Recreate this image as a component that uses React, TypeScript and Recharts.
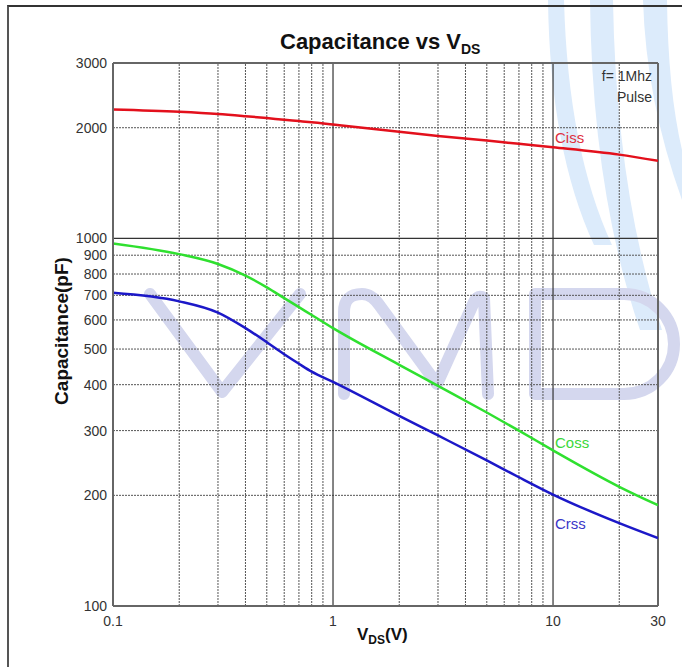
import { LineChart, Line, XAxis, YAxis, ReferenceLine } from "recharts"

// V_DS sample points (V)
const vds = [0.1, 0.2, 0.3, 0.4, 0.5, 0.6, 0.7, 0.8, 1, 2, 3, 5, 7, 10, 20, 30]
const ciss = [2242, 2210, 2180, 2150, 2125, 2102, 2085, 2070, 2040, 1950, 1900, 1845, 1808, 1770, 1690, 1625]
const coss = [969, 906, 852, 792, 736, 688, 650, 619, 570, 453, 397, 336, 300, 265, 211, 188]
const crss = [711, 674, 628, 570, 522, 484, 456, 434, 407, 329, 291, 249, 224, 201, 168, 153]

const xTicks = [0.1, 1, 10, 30]
const yTicks = [100, 200, 300, 400, 500, 600, 700, 800, 900, 1000, 2000, 3000]
const xMinor = [0.2, 0.3, 0.4, 0.5, 0.6, 0.7, 0.8, 0.9, 2, 3, 4, 5, 6, 7, 8, 9, 20]
const xMajor = [1, 10]
const yMinor = [200, 300, 400, 500, 600, 700, 800, 900, 2000]
const yMajor = [1000]

const data = vds.map((v, i) => ({ v, ciss: ciss[i], coss: coss[i], crss: crss[i] }))

const FONT = '"Liberation Sans", Arial, sans-serif'
const GRID = "#555"
const FRAME = "#666"
const WM = "#d4d7ee"

// faint "VMD" watermark and the light blue swooshes behind the plot
function Watermark() {
  return (
    <svg width={682} height={667} style={{ position: "absolute", left: 0, top: 0 }}>
      <path d="M548 0 L564 0 Q568 150 612 245 L594 245 Q550 150 548 0 Z" fill="#dcebfb" />
      <path d="M590 0 L613 0 Q616 190 662 330 L640 330 Q592 190 590 0 Z" fill="#dcebfb" />
      <path d="M643 0 L667 0 Q668 90 682 150 L682 200 Q646 100 643 0 Z" fill="#dcebfb" />
      <g fill="none" stroke={WM} strokeWidth={12} strokeLinecap="round" strokeLinejoin="round">
        <path d="M150 294 L222 392 L300 294" />
        <path d="M344 394 L344 312 Q344 294 362 294 Q372 294 380 306 L437 384 L474 302 Q478 294 484 298 L488 394" />
        <path d="M535 294 L624 294 A50 50 0 0 1 624 394 L535 394 Z" />
      </g>
    </svg>
  )
}

export default function App() {
  return (
    <div style={{ position: "absolute", left: 0, top: 0, width: 682, height: 667, background: "#fff", fontFamily: FONT, overflow: "hidden" }}>
      <Watermark />
      <div style={{ position: "absolute", left: 7, top: 5, width: 700, height: 700, borderLeft: "2px solid #555", borderTop: "2px solid #333" }} />
      <div style={{ position: "absolute", left: 0, top: 0 }}>
        <LineChart width={682} height={667} data={data} margin={{ top: 63, right: 24, bottom: 31, left: 53 }}>
          {xMinor.map((x) => (
            <ReferenceLine key={`xm-${x}`} x={x} stroke={GRID} strokeDasharray="2 1" strokeWidth={1} />
          ))}
          {yMinor.map((y) => (
            <ReferenceLine key={`ym-${y}`} y={y} stroke={GRID} strokeDasharray="2 1" strokeWidth={1} />
          ))}
          {xMajor.map((x) => (
            <ReferenceLine key={`xM-${x}`} x={x} stroke="#333" strokeWidth={1.2} />
          ))}
          {yMajor.map((y) => (
            <ReferenceLine key={`yM-${y}`} y={y} stroke="#333" strokeWidth={1.2} />
          ))}
          <ReferenceLine x={30} stroke={FRAME} strokeWidth={2} />
          <ReferenceLine y={3000} stroke={FRAME} strokeWidth={2} />
          <XAxis
            dataKey="v"
            type="number"
            scale="log"
            domain={[0.1, 30]}
            ticks={xTicks}
            interval={0}
            allowDataOverflow
            height={30}
            tickLine={false}
            tickSize={0}
            tickMargin={10}
            axisLine={{ stroke: FRAME, strokeWidth: 2 }}
            tick={{ fill: "#333", fontSize: 14, fontFamily: FONT }}
          />
          <YAxis
            type="number"
            scale="log"
            domain={[100, 3000]}
            ticks={yTicks}
            interval={0}
            allowDataOverflow
            width={60}
            tickLine={false}
            tickSize={0}
            tickMargin={6}
            axisLine={{ stroke: FRAME, strokeWidth: 2 }}
            tick={{ fill: "#333", fontSize: 14, fontFamily: FONT }}
          />
          <Line type="monotone" dataKey="ciss" stroke="#e3101c" strokeWidth={2.5} dot={false} isAnimationActive={false} />
          <Line type="monotone" dataKey="coss" stroke="#2fe02f" strokeWidth={2.5} dot={false} isAnimationActive={false} />
          <Line type="monotone" dataKey="crss" stroke="#1c18c8" strokeWidth={2.5} dot={false} isAnimationActive={false} />
        </LineChart>
      </div>

      <div style={{ position: "absolute", left: 280, top: 29, fontSize: 22, fontWeight: "bold", color: "#111", whiteSpace: "nowrap" }}>
        Capacitance vs V<sub style={{ fontSize: 14 }}>DS</sub>
      </div>
      <div
        style={{
          position: "absolute",
          left: 62,
          top: 331,
          transform: "translate(-50%, -50%) rotate(-90deg)",
          fontSize: 19,
          fontWeight: "bold",
          color: "#111",
          whiteSpace: "nowrap",
        }}
      >
        Capacitance(pF)
      </div>
      <div style={{ position: "absolute", left: 357, top: 625, fontSize: 17, fontWeight: "bold", color: "#111", whiteSpace: "nowrap" }}>
        V<sub style={{ fontSize: 12 }}>DS</sub>(V)
      </div>

      <div style={{ position: "absolute", right: 30, top: 66, fontSize: 14, color: "#333", textAlign: "right", lineHeight: "21px" }}>
        f= 1Mhz
        <br />
        Pulse
      </div>
      <div style={{ position: "absolute", left: 555, top: 129, fontSize: 15, color: "#e03040" }}>Ciss</div>
      <div style={{ position: "absolute", left: 555, top: 434, fontSize: 15, color: "#3ad83a" }}>Coss</div>
      <div style={{ position: "absolute", left: 555, top: 515, fontSize: 15, color: "#3a36c8" }}>Crss</div>
    </div>
  )
}
